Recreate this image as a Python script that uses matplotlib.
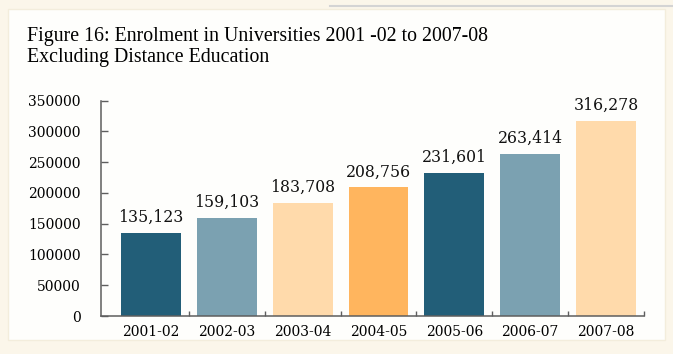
import matplotlib.pyplot as plt
from matplotlib.patches import Rectangle
import numpy as np

years = ['2001-02', '2002-03', '2003-04', '2004-05', '2005-06', '2006-07', '2007-08']
enrolment = [135123, 159103, 183708, 208756, 231601, 263414, 316278]
yticks = [0, 50000, 100000, 150000, 200000, 250000, 300000, 350000]

colors = ['#225e78', '#7ba1b1', '#ffdaab', '#ffb55e', '#225e78', '#7ba1b1', '#ffdaab']

SERIF = 'Liberation Serif'
NUMS = 'DejaVu Serif'
AXIS_GREY = '#5e5e5e'


def main():
    fig = plt.figure(figsize=(6.73, 3.54), dpi=100)
    fig.patch.set_facecolor('#fbf6ea')

    # white panel inside the cream frame
    fig.patches.append(Rectangle((8 / 673, 14 / 354), 657 / 673, 331 / 354,
                                 transform=fig.transFigure, facecolor='#fefefc',
                                 edgecolor='#f3eddc', linewidth=1.0, zorder=-2))
    # grey shadow line along the top
    fig.add_artist(plt.Line2D([330 / 673, 1.0], [348 / 354, 348 / 354],
                              transform=fig.transFigure, color='#d4d4d4',
                              linewidth=1.5, zorder=-1))

    ax = fig.add_axes([101 / 673, 1 - 316 / 354, 543 / 673, 215.5 / 354])
    ax.set_facecolor('none')

    x = np.arange(len(years))
    ax.bar(x, enrolment, width=0.79, color=colors, zorder=2)
    for xi, v in zip(x, enrolment):
        ax.annotate(f'{v:,}', (xi, v), xytext=(0, 8), textcoords='offset points',
                    ha='center', va='baseline', fontsize=11.3, family=NUMS,
                    color='#111111')

    ax.set_xlim(-0.658, len(years) - 0.5)
    ax.set_ylim(0, 350000)

    ax.set_yticks(yticks)
    ax.set_yticklabels([str(t) for t in yticks], family=NUMS, fontsize=10)
    ax.tick_params(axis='y', direction='in', length=5, width=1, color=AXIS_GREY, pad=14.5)

    # category ticks sit on the boundaries between bars
    ax.set_xticks(x + 0.5)
    ax.set_xticklabels([])
    ax.set_xticks(x, minor=True)
    ax.set_xticklabels(years, minor=True, family=NUMS, fontsize=10)
    ax.tick_params(axis='x', which='major', direction='in', length=3.6, width=1, color=AXIS_GREY)
    ax.tick_params(axis='x', which='minor', length=0, pad=6.5)

    for side in ['top', 'right']:
        ax.spines[side].set_visible(False)
    for side in ['left', 'bottom']:
        ax.spines[side].set_color(AXIS_GREY)
        ax.spines[side].set_linewidth(1.1)

    fig.text(27 / 673, 1 - 62 / 354,
             'Figure 16: Enrolment in Universities 2001 -02 to 2007-08\nExcluding Distance Education',
             family=SERIF, fontsize=14.3, ha='left', va='baseline', linespacing=1.13)

    fig.savefig('out.png', dpi=100, facecolor=fig.get_facecolor())


if __name__ == '__main__':
    main()
